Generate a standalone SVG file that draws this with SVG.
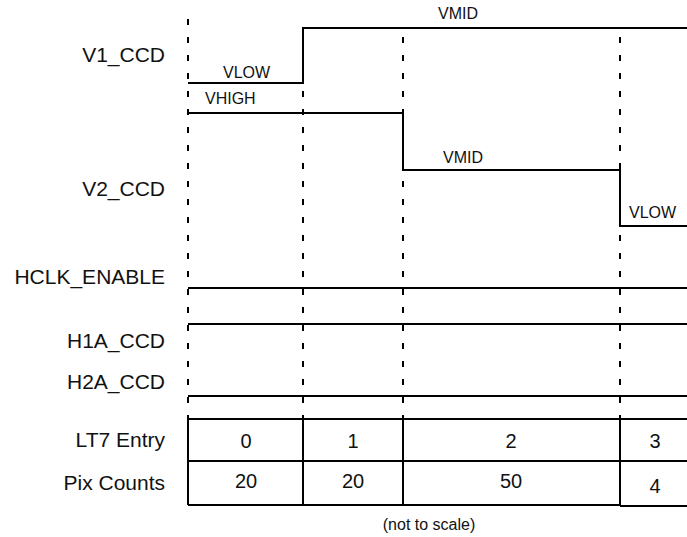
<svg xmlns="http://www.w3.org/2000/svg" width="687" height="537" viewBox="0 0 687 537">
<style>
.lbl{font-family:"Liberation Sans",Arial,sans-serif;font-size:21px;fill:#111;text-anchor:end}
.sm{font-family:"Liberation Sans",Arial,sans-serif;font-size:16px;fill:#111}
.cell{font-family:"Liberation Sans",Arial,sans-serif;font-size:20px;fill:#111;text-anchor:middle}
.note{font-family:"Liberation Sans",Arial,sans-serif;font-size:16px;fill:#111;text-anchor:middle}
.dash{stroke:#000;stroke-width:2;stroke-dasharray:6 12;fill:none}
.sig{stroke:#000;stroke-width:2;fill:none}
</style>
<rect width="687" height="537" fill="#fff"/>
<g id="gridlines">
<line class="dash" x1="188" y1="19" x2="188" y2="419"/>
<line class="dash" x1="303" y1="91" x2="303" y2="419"/>
<line class="dash" x1="403" y1="37" x2="403" y2="419"/>
<line class="dash" x1="620" y1="37" x2="620" y2="419"/>
</g>
<g id="labels">
<text class="lbl" x="165" y="62">V1_CCD</text>
<text class="lbl" x="165" y="196">V2_CCD</text>
<text class="lbl" x="165" y="284">HCLK_ENABLE</text>
<text class="lbl" x="165" y="348">H1A_CCD</text>
<text class="lbl" x="165" y="389">H2A_CCD</text>
<text class="lbl" x="165" y="447">LT7 Entry</text>
<text class="lbl" x="165" y="490">Pix Counts</text>
</g>
<g id="V1_CCD">
<polyline class="sig" points="188,83 303,83 303,28 687,28"/>
<text class="sm" x="223" y="78">VLOW</text>
<text class="sm" x="438" y="19">VMID</text>
</g>
<g id="V2_CCD">
<polyline class="sig" points="188,113 403,113 403,170 620,170 620,226 687,226"/>
<text class="sm" x="205" y="104">VHIGH</text>
<text class="sm" x="443" y="163">VMID</text>
<text class="sm" x="629" y="218">VLOW</text>
</g>
<g id="HCLK_ENABLE"><line class="sig" x1="188" y1="288" x2="687" y2="288"/></g>
<g id="H1A_CCD"><line class="sig" x1="188" y1="324" x2="687" y2="324"/></g>
<g id="H2A_CCD"><line class="sig" x1="188" y1="396" x2="687" y2="396"/></g>
<g id="table">
<line class="sig" x1="188" y1="419" x2="687" y2="419"/>
<line class="sig" x1="188" y1="461" x2="687" y2="461"/>
<line class="sig" x1="188" y1="505" x2="620" y2="505"/>
<line class="sig" x1="620" y1="506" x2="687" y2="506"/>
<line class="sig" x1="188" y1="419" x2="188" y2="505"/>
<line class="sig" x1="303" y1="419" x2="303" y2="505"/>
<line class="sig" x1="403" y1="419" x2="403" y2="505"/>
<line class="sig" x1="620" y1="419" x2="620" y2="506"/>
<text class="cell" x="246" y="448">0</text>
<text class="cell" x="353" y="448">1</text>
<text class="cell" x="511" y="448">2</text>
<text class="cell" x="655" y="448">3</text>
<text class="cell" x="246" y="488">20</text>
<text class="cell" x="353" y="488">20</text>
<text class="cell" x="511" y="488">50</text>
<text class="cell" x="655" y="493">4</text>
</g>
<text class="note" x="429" y="530">(not to scale)</text>
</svg>
